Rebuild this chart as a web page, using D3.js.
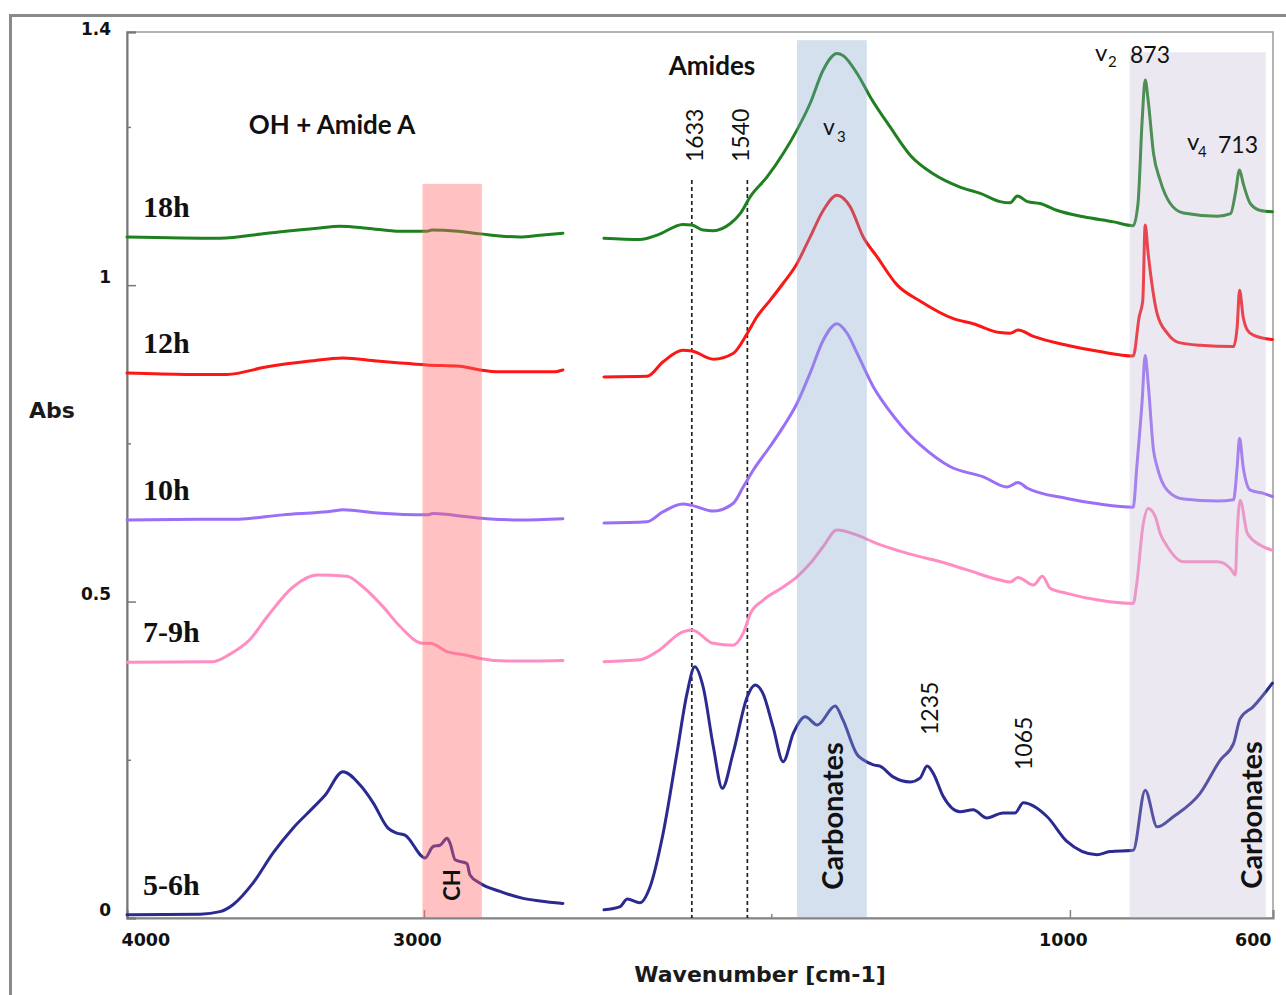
<!DOCTYPE html>
<html>
<head>
<meta charset="utf-8">
<script src="https://cdn.jsdelivr.net/npm/d3@7"></script>
<style>
  body { margin: 0; background: #fff; }
  svg { display: block; }
</style>
</head>
<body>
<svg id="chart" width="1286" height="995"></svg>
<script>
// ---- FTIR spectra, [wavenumber cm-1, absorbance] ----
// High-wavenumber window (OH + Amide A region)
const h18Left = [[4000,1.076],[3687,1.074],[3528,1.082],[3360,1.090],[3283,1.093],[3192,1.090],[3081,1.085],[2990,1.085],[2973,1.087],[2885,1.085],[2811,1.081],[2676,1.076],[2609,1.079],[2532,1.082]];
const h12Left = [[4000,0.861],[3798,0.859],[3663,0.859],[3528,0.871],[3384,0.880],[3273,0.885],[3158,0.880],[3081,0.877],[2990,0.874],[2878,0.872],[2811,0.866],[2744,0.863],[2565,0.863],[2532,0.866]];
const h10Left = [[4000,0.629],[3754,0.630],[3643,0.630],[3475,0.637],[3306,0.643],[3273,0.645],[3158,0.640],[2990,0.637],[2969,0.639],[2855,0.634],[2788,0.631],[2676,0.629],[2532,0.631]];
const h79Left = [[4000,0.404],[3710,0.405],[3653,0.417],[3586,0.440],[3528,0.476],[3441,0.523],[3360,0.542],[3259,0.540],[3205,0.523],[3138,0.492],[3081,0.461],[3003,0.434],[2980,0.434],[2922,0.421],[2855,0.415],[2811,0.410],[2720,0.406],[2532,0.407]];
const h56Left = [[4000,0.005],[3754,0.006],[3687,0.010],[3643,0.021],[3576,0.055],[3508,0.103],[3441,0.142],[3374,0.174],[3333,0.194],[3273,0.231],[3215,0.210],[3171,0.182],[3121,0.142],[3091,0.134],[3064,0.131],[2996,0.095],[2969,0.113],[2946,0.115],[2922,0.126],[2912,0.118],[2895,0.092],[2855,0.086],[2845,0.068],[2811,0.055],[2744,0.042],[2666,0.031],[2609,0.027],[2532,0.023]];

// Fingerprint window (amides, carbonates)
const h18Right = [[1780,1.074],[1720,1.072],[1691,1.079],[1648,1.096],[1633,1.095],[1614,1.087],[1597,1.086],[1569,1.097],[1552,1.113],[1535,1.140],[1507,1.171],[1480,1.208],[1457,1.245],[1435,1.287],[1413,1.340],[1390,1.366],[1380,1.363],[1356,1.334],[1334,1.297],[1301,1.250],[1267,1.205],[1229,1.176],[1184,1.155],[1150,1.145],[1117,1.132],[1100,1.130],[1088,1.141],[1071,1.132],[1050,1.129],[1021,1.118],[977,1.108],[927,1.100],[894,1.094],[886,1.129],[879,1.261],[874,1.324],[869,1.292],[860,1.208],[849,1.166],[832,1.129],[810,1.114],[753,1.109],[731,1.113],[723,1.145],[716,1.182],[710,1.161],[698,1.129],[681,1.118],[661,1.116]];
const h12Right = [[1780,0.855],[1708,0.856],[1681,0.879],[1648,0.897],[1633,0.896],[1597,0.883],[1564,0.892],[1540,0.924],[1524,0.950],[1502,0.976],[1480,1.003],[1457,1.034],[1435,1.076],[1413,1.118],[1390,1.142],[1368,1.124],[1346,1.076],[1323,1.045],[1289,1.000],[1251,0.975],[1195,0.947],[1162,0.939],[1117,0.925],[1100,0.924],[1087,0.929],[1061,0.919],[1005,0.905],[950,0.895],[894,0.888],[884,0.950],[878,0.976],[874,1.095],[869,1.050],[854,0.955],[837,0.924],[820,0.910],[782,0.905],[726,0.903],[720,0.934],[716,0.992],[710,0.950],[703,0.929],[693,0.921],[661,0.914]];
const h10Right = [[1780,0.624],[1708,0.626],[1681,0.642],[1648,0.654],[1633,0.652],[1597,0.643],[1564,0.655],[1547,0.681],[1530,0.708],[1502,0.745],[1480,0.776],[1457,0.813],[1435,0.861],[1413,0.913],[1390,0.939],[1373,0.924],[1356,0.892],[1329,0.839],[1301,0.800],[1267,0.762],[1251,0.748],[1200,0.713],[1145,0.697],[1105,0.681],[1087,0.688],[1071,0.679],[1005,0.663],[950,0.654],[894,0.649],[888,0.713],[879,0.818],[874,0.889],[869,0.845],[860,0.739],[854,0.713],[837,0.676],[810,0.662],[753,0.659],[726,0.661],[720,0.713],[716,0.758],[710,0.713],[698,0.676],[676,0.671],[661,0.666]];
const h79Right = [[1780,0.405],[1720,0.408],[1691,0.421],[1648,0.452],[1633,0.455],[1597,0.434],[1564,0.431],[1547,0.450],[1535,0.481],[1514,0.502],[1480,0.523],[1457,0.539],[1435,0.560],[1413,0.587],[1390,0.613],[1356,0.605],[1329,0.594],[1289,0.581],[1251,0.571],[1229,0.566],[1172,0.550],[1117,0.534],[1100,0.531],[1087,0.538],[1061,0.526],[1046,0.540],[1033,0.521],[1005,0.513],[950,0.502],[894,0.497],[888,0.529],[878,0.618],[869,0.647],[857,0.634],[849,0.608],[837,0.587],[810,0.563],[753,0.563],[731,0.552],[723,0.542],[720,0.608],[715,0.660],[703,0.608],[681,0.589],[661,0.581]];
const h56Right = [[1780,0.013],[1753,0.018],[1741,0.030],[1720,0.024],[1703,0.049],[1681,0.134],[1658,0.260],[1641,0.355],[1628,0.397],[1614,0.365],[1597,0.271],[1582,0.205],[1564,0.260],[1540,0.350],[1527,0.368],[1514,0.355],[1497,0.302],[1480,0.247],[1463,0.292],[1443,0.318],[1423,0.305],[1393,0.335],[1380,0.313],[1356,0.258],[1346,0.250],[1329,0.242],[1318,0.240],[1296,0.223],[1267,0.215],[1251,0.221],[1239,0.240],[1229,0.229],[1212,0.192],[1184,0.168],[1162,0.171],[1139,0.158],[1112,0.166],[1092,0.166],[1078,0.182],[1038,0.160],[1005,0.121],[955,0.100],[933,0.105],[894,0.107],[874,0.202],[854,0.144],[827,0.160],[782,0.197],[748,0.250],[726,0.276],[715,0.315],[693,0.334],[661,0.371]];

const seriesNames = ["18h", "12h", "10h", "7-9h", "5-6h"];
const seriesLeft  = [h18Left, h12Left, h10Left, h79Left, h56Left];
const seriesRight = [h18Right, h12Right, h10Right, h79Right, h56Right];
const seriesColors = ["#1e801e", "#fc1616", "#9b6ef8", "#ff8dc3", "#2a2a91"];

// Shaded assignment bands (wavenumber limits, top in absorbance)
const bandFrom = [3005, 1457, 900];
const bandTo   = [2805, 1340, 672];
const bandTop  = [1.16, 1.387, 1.368];
const bandFill = ["rgb(255,100,100)", "rgb(135,166,206)", "rgb(188,178,212)"];
const bandAlpha = [0.4, 0.35, 0.3];

// Amide I / II markers
const amideMarks = [1633, 1540];
const amideTop = 1.166;

// Axis ticks
const xTickValues = [4000, 3000, 1000, 600];
const xTickLabels = ["4000", "3000", "1000", "600"];
const xMinorTicks = [1500];
const yTickValues = [0, 0.5, 1, 1.4];
const yTickLabels = ["0", "0.5", "1", "1.4"];
const yMinorTicks = [0.25, 0.75, 1.25];

// ---- scales: broken wavenumber axis with two windows ----
const svg = d3.select("#chart");
const x = d3.scaleLinear()
  .domain([4000, 2525, 1780, 660])
  .range([127, 565, 604, 1273]);
const xAxisScale = x.copy().clamp(true);
const y = d3.scaleLinear().domain([0, 1.4]).range([918, 32]);
const [xMin, xMax] = [x.range()[0], x.range()[3]];
const axisGray = "#858585";

// outer figure frame
svg.append("path")
  .attr("d", "M10.5,995 V15.5 H1286")
  .attr("fill", "none")
  .attr("stroke", "#8a8a8a")
  .attr("stroke-width", 3);

// plot frame
svg.append("rect")
  .attr("x", xMin).attr("y", y(1.4))
  .attr("width", xMax - xMin).attr("height", y(0) - y(1.4))
  .attr("fill", "none")
  .attr("stroke", "#9a9a9a")
  .attr("stroke-width", 1.5);

// x axis
const xAxis = svg.append("g")
  .attr("transform", `translate(0,${y(0)})`)
  .call(d3.axisBottom(xAxisScale)
    .tickValues(xTickValues)
    .tickFormat((d, i) => xTickLabels[i])
    .tickSize(-8)
    .tickPadding(16));
xAxis.select(".domain").attr("stroke", axisGray).attr("stroke-width", 2);
xAxis.selectAll(".tick line").attr("stroke", axisGray).attr("stroke-width", 1.5);
xAxis.selectAll(".tick text")
  .attr("font-family", "DejaVu Sans, sans-serif")
  .attr("font-weight", "bold")
  .attr("font-size", 17.5)
  .attr("fill", "#111")
  .attr("text-anchor", (d, i) => i === 0 ? "start" : (i === xTickValues.length - 1 ? "end" : "middle"))
  .attr("dx", (d, i) => i === 0 ? -6 : (i === xTickValues.length - 1 ? -2 : -7));

const xMinor = svg.append("g")
  .attr("transform", `translate(0,${y(0)})`)
  .call(d3.axisBottom(x).tickValues(xMinorTicks).tickSize(-4).tickFormat(""));
xMinor.select(".domain").remove();
xMinor.selectAll(".tick line").attr("stroke", axisGray).attr("stroke-width", 1.5);

// y axis
const yAxis = svg.append("g")
  .attr("transform", `translate(${xMin},0)`)
  .call(d3.axisLeft(y)
    .tickValues(yTickValues)
    .tickFormat((d, i) => yTickLabels[i])
    .tickSize(-9)
    .tickPadding(16));
yAxis.select(".domain").attr("stroke", "#777").attr("stroke-width", 2);
yAxis.selectAll(".tick line").attr("stroke", "#777").attr("stroke-width", 1.5);
yAxis.selectAll(".tick text")
  .attr("font-family", "DejaVu Sans, sans-serif")
  .attr("font-weight", "bold")
  .attr("font-size", 17)
  .attr("fill", "#111")
  .attr("transform", d => `translate(0,${d === 1.4 ? -3 : -8})`);

const yMinor = svg.append("g")
  .attr("transform", `translate(${xMin},0)`)
  .call(d3.axisLeft(y).tickValues(yMinorTicks).tickSize(-4).tickFormat(""));
yMinor.select(".domain").remove();
yMinor.selectAll(".tick line").attr("stroke", "#777").attr("stroke-width", 1.5);

// amide marker lines
svg.append("g").selectAll("line")
  .data(amideMarks)
  .join("line")
  .attr("x1", d => x(d)).attr("x2", d => x(d))
  .attr("y1", y(amideTop)).attr("y2", y(0))
  .attr("stroke", "#222")
  .attr("stroke-width", 1.7)
  .attr("stroke-dasharray", "4,3");

// spectra
const line = d3.line()
  .x(d => x(d[0]))
  .y(d => y(d[1]))
  .curve(d3.curveMonotoneX);

const curves = svg.append("g")
  .attr("fill", "none")
  .attr("stroke-width", 3)
  .attr("stroke-linejoin", "round")
  .attr("stroke-linecap", "round");
seriesNames.forEach((name, i) => {
  [seriesLeft[i], seriesRight[i]].forEach(seg => {
    curves.append("path")
      .datum(seg)
      .attr("stroke", seriesColors[i])
      .attr("d", line);
  });
});

// shaded bands, laid over the spectra
svg.append("g").selectAll("rect")
  .data(bandFrom)
  .join("rect")
  .attr("x", (d, i) => x(d))
  .attr("width", (d, i) => x(bandTo[i]) - x(d))
  .attr("y", (d, i) => y(bandTop[i]))
  .attr("height", (d, i) => y(0) - y(bandTop[i]))
  .attr("fill", (d, i) => bandFill[i])
  .attr("fill-opacity", (d, i) => bandAlpha[i]);

// series labels
svg.append("g").selectAll("text")
  .data(seriesNames)
  .join("text")
  .attr("x", x(4000) + 16)
  .attr("y", (d, i) => y(seriesLeft[i][0][1]) - 20)
  .attr("font-family", "Liberation Serif, Times New Roman, serif")
  .attr("font-weight", "bold")
  .attr("font-size", 30)
  .attr("fill", "#111")
  .text(d => d);

// axis titles
svg.append("text")
  .attr("x", 52).attr("y", 418)
  .attr("text-anchor", "middle")
  .attr("font-family", "DejaVu Sans, sans-serif")
  .attr("font-weight", "bold")
  .attr("font-size", 22)
  .attr("fill", "#1a1a1a")
  .text("Abs");
svg.append("text")
  .attr("x", 760).attr("y", 982)
  .attr("text-anchor", "middle")
  .attr("font-family", "DejaVu Sans, sans-serif")
  .attr("font-weight", "bold")
  .attr("font-size", 22)
  .attr("fill", "#1a1a1a")
  .text("Wavenumber [cm-1]");

// region annotations
const note = (txt, px, py, size, weight, anchor, rot) => {
  return svg.append("text")
    .attr("transform", `translate(${px},${py})` + (rot ? ` rotate(${rot})` : ""))
    .attr("text-anchor", anchor || "start")
    .attr("font-family", "Lato, sans-serif")
    .attr("font-weight", weight)
    .attr("font-size", size)
    .attr("fill", "#111")
    .text(txt);
};
note("OH + Amide A", 332, 134, 26, "bold", "middle");
note("Amides", 712, 75, 26, "bold", "middle");
note("1633", x(1633) + 11, 162, 23, "normal", "start", -90);
note("1540", x(1540) + 2, 162, 23, "normal", "start", -90);
note("1235", 938, 735, 23, "normal", "start", -90);
note("1065", 1032, 770, 23, "normal", "start", -90);
note("CH", 460, 885, 22, "bold", "middle", -90);
note("Carbonates", 843, 816, 29, "bold", "middle", -90);
note("Carbonates", 1262, 815, 29, "bold", "middle", -90);

// carbonate vibration modes
note("v", 823, 135, 23, "normal");
note("3", 837, 142, 15, "normal");
note("v", 1095, 61, 24, "normal");
note("2", 1108, 67, 15, "normal");
note("873", 1130, 63, 23, "normal");
note("v", 1187, 150, 24, "normal");
note("4", 1198, 157, 15, "normal");
note("713", 1218, 153, 23, "normal");
</script>
</body>
</html>
